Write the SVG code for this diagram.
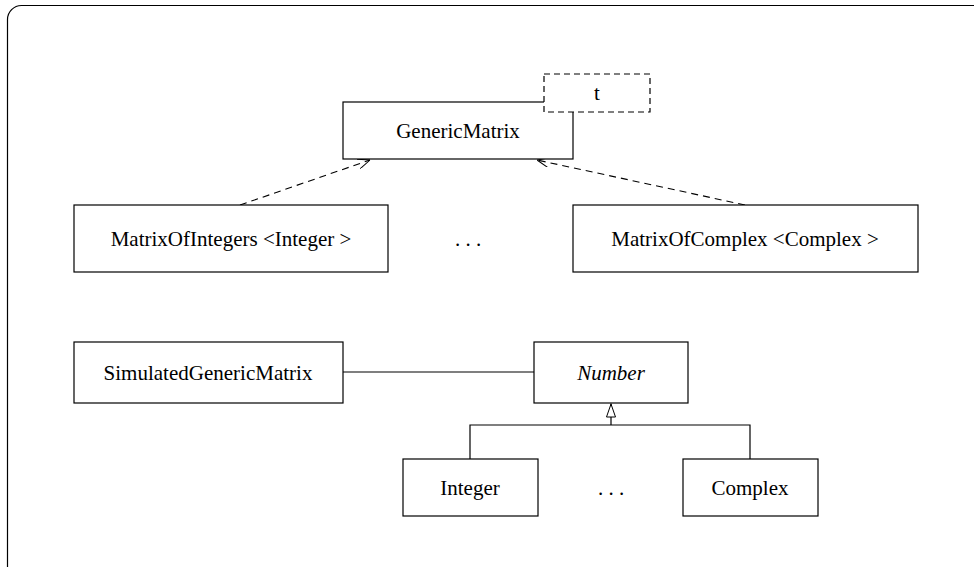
<svg xmlns="http://www.w3.org/2000/svg" width="974" height="567" viewBox="0 0 974 567">
  <style>
    .box { fill: #fff; stroke: #000; stroke-width: 1.2; }
    .param { fill: #fff; stroke: #000; stroke-width: 1.2; stroke-dasharray: 6 4; }
    .lbl { font-family: "Liberation Serif", "Times New Roman", serif; font-size: 21px; fill: #000; text-anchor: middle; }
    .it { font-style: italic; }
    .line { fill: none; stroke: #000; stroke-width: 1.2; }
    .dash { fill: none; stroke: #000; stroke-width: 1.1; stroke-dasharray: 7 5; }
  </style>
  <defs>
    <!-- open arrowhead for realization -->
    <marker id="open" viewBox="0 0 12 10" refX="12" refY="5" markerWidth="12" markerHeight="10" markerUnits="userSpaceOnUse" orient="auto">
      <path d="M0,0 L12,5 L0,10" fill="none" stroke="#000" stroke-width="1"/>
    </marker>
    <!-- hollow triangle for generalization -->
    <marker id="tri" viewBox="0 0 14 10" refX="14" refY="5" markerWidth="14" markerHeight="10" markerUnits="userSpaceOnUse" orient="auto">
      <path d="M0.5,0.5 L13.5,5 L0.5,9.5 Z" fill="#fff" stroke="#000" stroke-width="1"/>
    </marker>
  </defs>

  <!-- outer frame -->
  <rect x="7.5" y="5.5" width="1000" height="580" rx="14" fill="none" stroke="#000" stroke-width="1.2"/>

  <g id="connectors">
    <path class="dash" d="M240,205 L370,160" marker-end="url(#open)"/>
    <path class="dash" d="M745,205 L537,160" marker-end="url(#open)"/>
    <path class="line" d="M343,372 L534,372"/>
    <path class="line" d="M611,425 L611,403.5" marker-end="url(#tri)"/>
    <path class="line" d="M470,459 L470,425 L750,425 L750,459"/>
  </g>

  <g id="GenericMatrix">
    <rect class="box" x="343" y="102" width="230" height="57"/>
    <text class="lbl" x="458" y="138">GenericMatrix</text>
  </g>
  <g id="t">
    <rect class="param" x="544" y="74" width="106" height="38"/>
    <text class="lbl" x="597" y="100">t</text>
  </g>
  <g id="MatrixOfIntegers">
    <rect class="box" x="74" y="205" width="314" height="67"/>
    <text class="lbl" x="231" y="246">MatrixOfIntegers &lt;Integer &gt;</text>
  </g>
  <g id="dots1">
    <text class="lbl" x="468" y="246">. . .</text>
  </g>
  <g id="MatrixOfComplex">
    <rect class="box" x="573" y="205" width="345" height="67"/>
    <text class="lbl" x="745" y="246">MatrixOfComplex &lt;Complex &gt;</text>
  </g>
  <g id="SimulatedGenericMatrix">
    <rect class="box" x="74" y="342" width="269" height="61"/>
    <text class="lbl" x="208" y="380">SimulatedGenericMatrix</text>
  </g>
  <g id="Number">
    <rect class="box" x="534" y="342" width="154" height="61"/>
    <text class="lbl it" x="611" y="380">Number</text>
  </g>
  <g id="Integer">
    <rect class="box" x="403" y="459" width="135" height="57"/>
    <text class="lbl" x="470" y="495">Integer</text>
  </g>
  <g id="dots2">
    <text class="lbl" x="611" y="495">. . .</text>
  </g>
  <g id="Complex">
    <rect class="box" x="683" y="459" width="135" height="57"/>
    <text class="lbl" x="750" y="495">Complex</text>
  </g>
</svg>
